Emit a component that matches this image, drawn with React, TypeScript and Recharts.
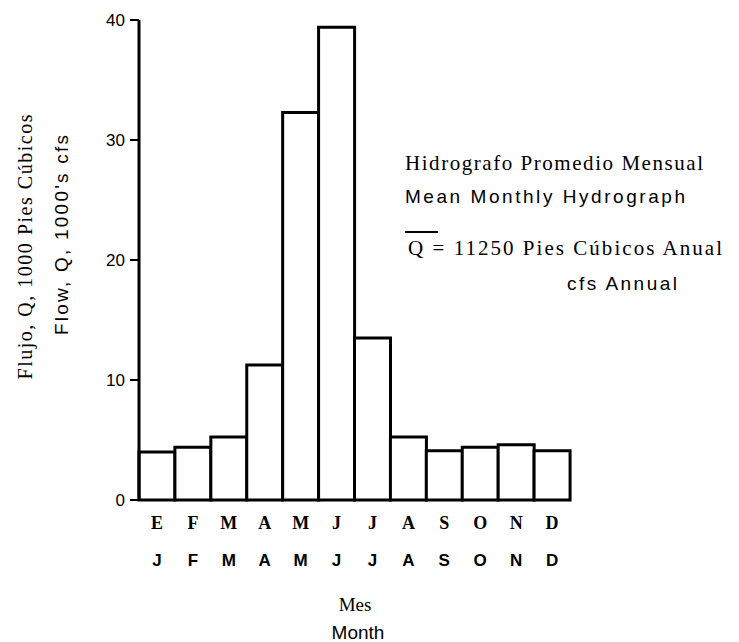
import React from 'react';
import { BarChart, Bar, XAxis, YAxis, Customized } from 'recharts';

// month initials: Spanish row on top, English row below
const monthsEs = ['E', 'F', 'M', 'A', 'M', 'J', 'J', 'A', 'S', 'O', 'N', 'D'];
const monthsEn = ['J', 'F', 'M', 'A', 'M', 'J', 'J', 'A', 'S', 'O', 'N', 'D'];
// mean monthly flow, 1000's cfs
const flow = [4.0, 4.4, 5.25, 11.25, 32.3, 39.4, 13.5, 5.25, 4.1, 4.4, 4.6, 4.1];
const yTicks = [0, 10, 20, 30, 40];

const data = monthsEs.map((m, i) => ({ id: i, es: m, en: monthsEn[i], flow: flow[i] }));

const SERIF = '"Liberation Serif", "DejaVu Serif", serif';
const SANS = '"Liberation Sans", Arial, sans-serif';

const MonthTick = (props: any) => {
  const { x, payload } = props;
  const i = payload.index;
  return (
    <g>
      <text x={x} y={523} textAnchor="middle" dominantBaseline="central"
        fontFamily={SERIF} fontSize={18} fontWeight="bold" fill="#000">
        {monthsEs[i]}
      </text>
      <text x={x} y={560} textAnchor="middle" dominantBaseline="central"
        fontFamily={SANS} fontSize={17} fontWeight="bold" fill="#000">
        {monthsEn[i]}
      </text>
    </g>
  );
};

const Annotations = () => (
  <g fill="#000">
    {/* y axis titles */}
    <text transform="translate(25,247) rotate(-90)" textAnchor="middle" dominantBaseline="central"
      fontFamily={SERIF} fontSize={20} textLength={265} lengthAdjust="spacing">
      Flujo, Q, 1000 Pies Cúbicos
    </text>
    <text transform="translate(61,235) rotate(-90)" textAnchor="middle" dominantBaseline="central"
      fontFamily={SANS} fontSize={19} textLength={200} lengthAdjust="spacing">
      Flow, Q, 1000's cfs
    </text>

    {/* legend-ish note */}
    <text x={405} y={163} dominantBaseline="central" fontFamily={SERIF} fontSize={21}
      textLength={298} lengthAdjust="spacing">
      Hidrografo Promedio Mensual
    </text>
    <text x={405} y={196} dominantBaseline="central" fontFamily={SANS} fontSize={19}
      textLength={280} lengthAdjust="spacing">
      Mean Monthly Hydrograph
    </text>
    <line x1={405} x2={438} y1={232} y2={232} stroke="#000" strokeWidth={2} />
    <text x={408} y={248} dominantBaseline="central" fontFamily={SERIF} fontSize={21}
      textLength={314} lengthAdjust="spacing">
      Q = 11250 Pies Cúbicos Anual
    </text>
    <text x={567} y={283} dominantBaseline="central" fontFamily={SANS} fontSize={19}
      textLength={110} lengthAdjust="spacing">
      cfs Annual
    </text>

    {/* x axis titles */}
    <text x={355} y={604} textAnchor="middle" dominantBaseline="central" fontFamily={SERIF} fontSize={19}>
      Mes
    </text>
    <text x={358} y={632} textAnchor="middle" dominantBaseline="central" fontFamily={SANS} fontSize={19}>
      Month
    </text>
  </g>
);

export default function App() {
  return (
    <div style={{ position: 'absolute', left: 0, top: 0, background: '#fff' }}>
      <BarChart
        width={739}
        height={642}
        data={data}
        margin={{ top: 20, right: 169, left: 89, bottom: 42 }}
        barCategoryGap={0}
        barGap={0}
      >
        <XAxis
          dataKey="id"
          interval={0}
          height={100}
          tickLine={false}
          tick={<MonthTick />}
          axisLine={{ stroke: '#000', strokeWidth: 2 }}
        />
        <YAxis
          domain={[0, 40]}
          ticks={yTicks}
          width={50}
          tickSize={9}
          tickMargin={5}
          tick={{ fill: '#000', fontSize: 17, fontFamily: SANS }}
          tickLine={{ stroke: '#000', strokeWidth: 2 }}
          axisLine={{ stroke: '#000', strokeWidth: 3 }}
        />
        <Bar dataKey="flow" fill="#fff" stroke="#000" strokeWidth={3} isAnimationActive={false} />
        <Customized component={Annotations} />
      </BarChart>
    </div>
  );
}
